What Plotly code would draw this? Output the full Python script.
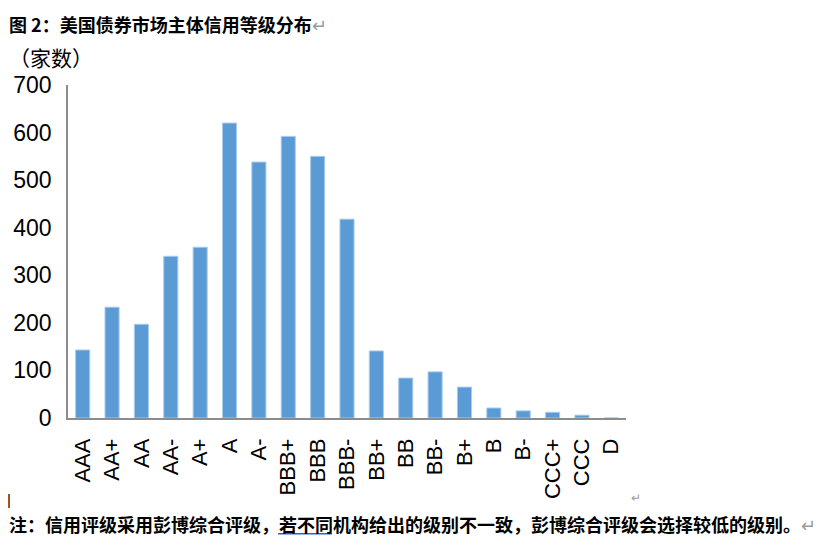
import plotly.graph_objects as go

categories = ["AAA", "AA+", "AA", "AA-", "A+", "A", "A-", "BBB+", "BBB", "BBB-",
              "BB+", "BB", "BB-", "B+", "B", "B-", "CCC+", "CCC", "D"]
counts = [143, 233, 197, 340, 359, 620, 538, 592, 550, 418,
          141, 84, 97, 65, 21, 15, 12, 6, 0]
y_ticks = [0, 100, 200, 300, 400, 500, 600, 700]

title_text = "图 2：美国债券市场主体信用等级分布"
unit_text = "（家数）"
note_pre = "注：信用评级采用彭博综合评级，"
note_ul = "若不同"
note_post = "机构给出的级别不一致，彭博综合评级会选择较低的级别。"

W, H = 831, 559
L, R, T, B = 68, 626, 85, 418.5

def px(x):
    return (x - L) / (R - L)

def py(y):
    return (B - y) / (B - T)

CJK = "Noto Sans CJK SC"
SANS = "Liberation Sans, Arial"

fig = go.Figure(go.Bar(
    x=categories, y=counts,
    marker=dict(color="#5B9BD5", line=dict(color="#A9CBEA", width=1)),
    width=0.48,
))

fig.update_layout(
    width=W, height=H,
    margin=dict(l=L, r=W - R, t=T, b=H - B),
    paper_bgcolor="white", plot_bgcolor="white",
    showlegend=False,
    bargap=0.52,
)
fig.update_xaxes(
    type="category", tickangle=-90,
    tickfont=dict(family=SANS, size=22, color="black"),
    showline=True, linecolor="#8C8C8C", linewidth=1.5,
    ticks="", showgrid=False, ticklabelstandoff=10,
    range=[-0.5, len(categories) - 0.5],
)
fig.update_yaxes(
    range=[0, 700], tickvals=y_ticks,
    tickfont=dict(family=SANS, size=23, color="black"),
    showline=True, linecolor="#8C8C8C", linewidth=1.5,
    ticks="", showgrid=False, zeroline=False, ticklabelstandoff=10,
)

ann = []
ann.append(dict(x=px(8), y=py(24), xref="paper", yref="paper", xanchor="left", yanchor="middle",
                showarrow=False, borderpad=0,
                text="<b>" + title_text + "</b><span style='color:#9a9a9a'>↵</span>",
                font=dict(family=CJK, size=18, color="black")))
ann.append(dict(x=px(8), y=py(57), xref="paper", yref="paper", xanchor="left", yanchor="middle",
                showarrow=False, borderpad=0, text=unit_text,
                font=dict(family=CJK, size=21, color="black")))
ann.append(dict(x=px(8), y=py(524.5), xref="paper", yref="paper", xanchor="left", yanchor="middle",
                showarrow=False, borderpad=0,
                text="<b>" + note_pre + note_ul + note_post + "</b><span style='color:#9a9a9a'>↵</span>",
                font=dict(family=CJK, size=18, color="black")))
ann.append(dict(x=px(9), y=py(500), xref="paper", yref="paper", xanchor="center", yanchor="middle",
                showarrow=False, text="|",
                font=dict(family=SANS, size=15, color="black")))
ann.append(dict(x=px(636), y=py(499), xref="paper", yref="paper", xanchor="center", yanchor="middle",
                showarrow=False, text="↵",
                font=dict(family=SANS, size=12, color="#9a9a9a")))
fig.update_layout(annotations=ann)

# blue underline under the linked words of the note
fig.add_shape(type="line", xref="paper", yref="paper",
              x0=px(278), x1=px(332), y0=py(534.5), y1=py(534.5),
              line=dict(color="#2F62D0", width=1.5))

fig.write_html("out.html", config={"displayModeBar": False},
               post_script="document.body.style.margin='0px';")
